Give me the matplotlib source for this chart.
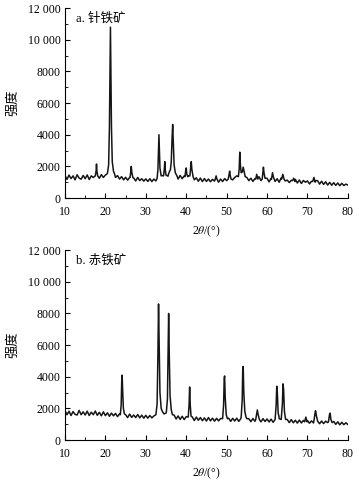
import numpy as np
import matplotlib
matplotlib.use('Agg')
from matplotlib import pyplot as plt
from matplotlib.ticker import MultipleLocator, FuncFormatter

plt.rcParams['font.family'] = ['Liberation Serif', 'Noto Sans CJK SC']
plt.rcParams['mathtext.fontset'] = 'stix'

# sampling grid for the background (every 0.5 degree)
two_theta = np.arange(10, 80.01, 0.5)

# a. goethite background (noisy band)
goethite_base = [
    1420, 1180, 1450, 1230, 1400, 1150, 1470, 1260, 1190, 1430,
    1220, 1460, 1170, 1400, 1300, 1200, 1450, 1250, 1480, 1300,
    1450, 1500, 1500, 1560, 1500, 1300, 1420, 1200, 1350, 1150,
    1310, 1130, 1300, 1120, 1270, 1080, 1300, 1100, 1220, 1070,
    1210, 1050, 1220, 1040, 1200, 1080, 1380, 1500, 1420, 1600,
    1450, 1380, 1500, 1700, 1400, 1470, 1200, 1430, 1220, 1400,
    1350, 1400, 1480, 1350, 1150, 1280, 1060, 1260, 1040, 1230,
    1050, 1200, 1030, 1180, 1070, 1220, 1000, 1200, 1040, 1230,
    1100, 1280, 1300, 1150, 1300, 1400, 1500, 1420, 1600, 1350,
    1300, 1100, 1250, 1050, 1230, 1080, 1350, 1100, 1300, 1120,
    1250, 1020, 1240, 1300, 1050, 1220, 1000, 1270, 1300, 1080,
    1130, 980, 1120, 960, 1180, 950, 1140, 920, 1110, 1000,
    1080, 890, 1060, 900, 1100, 1100, 880, 1060, 860, 1030,
    820, 990, 810, 970, 800, 950, 780, 930, 790, 880,
    820,
]

# goethite peak profiles (2theta, intensity)
goethite_peaks = [
    [(17.5, 1400), (17.7, 1700), (17.8, 2150), (17.9, 1700), (18.1, 1400)],
    [(20.5, 1550), (20.8, 2100), (21.0, 4500), (21.15, 8500), (21.25, 10800),
     (21.35, 8500), (21.5, 4500), (21.7, 2300), (22.0, 1700), (22.3, 1500)],
    [(26.1, 1300), (26.3, 1700), (26.4, 2000), (26.55, 1600), (26.8, 1300)],
    [(32.8, 1250), (33.0, 1800), (33.15, 3200), (33.25, 4000), (33.35, 3200),
     (33.5, 1900), (33.8, 1400)],
    [(34.4, 1400), (34.6, 1900), (34.7, 2300), (34.8, 1800), (35.0, 1450)],
    [(35.6, 1500), (35.9, 1700), (36.1, 1800), (36.3, 2300), (36.5, 3800),
     (36.65, 4650), (36.8, 3600), (37.0, 2100), (37.3, 1600), (37.7, 1400)],
    [(39.7, 1350), (39.9, 1800), (40.0, 1900), (40.15, 1500), (40.4, 1350)],
    [(40.9, 1400), (41.1, 1900), (41.25, 2300), (41.4, 1800), (41.7, 1350)],
    [(47.2, 1200), (47.4, 1400), (47.6, 1200)],
    [(50.4, 1200), (50.6, 1500), (50.75, 1700), (50.9, 1400), (51.1, 1200)],
    [(52.9, 1350), (53.1, 1800), (53.25, 2900), (53.4, 2100), (53.6, 1600),
     (53.9, 1650), (54.1, 1950), (54.3, 1700), (54.6, 1350)],
    [(57.2, 1200), (57.45, 1500), (57.7, 1200)],
    [(58.8, 1200), (59.0, 1700), (59.1, 1950), (59.25, 1600), (59.5, 1250)],
    [(61.1, 1200), (61.35, 1600), (61.6, 1300)],
    [(63.6, 1200), (63.9, 1500), (64.2, 1200)],
    [(66.3, 1100), (66.6, 1250), (66.9, 1050)],
    [(71.3, 1050), (71.6, 1300), (71.9, 1000)],
]

# b. hematite background
hematite_base = [
    1850, 1600, 1820, 1550, 1800, 1620, 1580, 1870, 1600, 1780,
    1580, 1820, 1550, 1760, 1600, 1830, 1560, 1750, 1530, 1780,
    1540, 1720, 1500, 1700, 1530, 1680, 1480, 1650, 1450, 1620,
    1600, 1420, 1640, 1430, 1580, 1420, 1610, 1400, 1570, 1380,
    1560, 1380, 1550, 1400, 1520, 1600, 1700, 1900, 1800, 1650,
    1700, 1650, 1600, 1400, 1580, 1330, 1520, 1300, 1500, 1290,
    1480, 1360, 1450, 1460, 1230, 1450, 1250, 1420, 1220, 1400,
    1200, 1420, 1210, 1380, 1190, 1370, 1210, 1360, 1200, 1450,
    1350, 1380, 1180, 1370, 1200, 1380, 1180, 1350, 1380, 1500,
    1350, 1340, 1160, 1360, 1180, 1400, 1300, 1150, 1350, 1170,
    1330, 1140, 1320, 1120, 1300, 1400, 1350, 1300, 1380, 1250,
    1300, 1100, 1290, 1090, 1250, 1070, 1260, 1080, 1240, 1090,
    1230, 1060, 1210, 1080, 1250, 1130, 1030, 1200, 1040, 1190,
    1100, 1180, 1010, 1170, 990, 1150, 960, 1120, 970, 1090,
    980,
]

hematite_peaks = [
    [(23.7, 1600), (23.9, 2200), (24.05, 3800), (24.15, 4100), (24.25, 3300),
     (24.45, 2000), (24.7, 1650)],
    [(32.5, 1600), (32.8, 2300), (33.0, 5500), (33.15, 8600), (33.3, 6000),
     (33.5, 3000), (33.8, 2000), (34.1, 1800)],
    [(35.1, 1800), (35.35, 2600), (35.5, 5200), (35.65, 8000), (35.8, 5500),
     (36.0, 2800), (36.3, 1900), (36.6, 1600)],
    [(40.5, 1450), (40.7, 2200), (40.85, 3350), (41.0, 2200), (41.2, 1500)],
    [(49.0, 1350), (49.25, 2200), (49.4, 3900), (49.5, 4050), (49.65, 2700),
     (49.9, 1600), (50.2, 1350)],
    [(53.6, 1450), (53.85, 2500), (54.0, 4600), (54.1, 4650), (54.25, 3000),
     (54.5, 1800), (54.8, 1450)],
    [(57.2, 1300), (57.45, 1700), (57.6, 1900), (57.8, 1600), (58.1, 1300)],
    [(62.0, 1300), (62.25, 2200), (62.4, 3400), (62.55, 3000), (62.75, 1700),
     (62.95, 1500)],
    [(63.55, 1450), (63.8, 2300), (63.95, 3550), (64.1, 3200), (64.3, 1800),
     (64.6, 1300)],
    [(69.3, 1150), (69.6, 1450), (69.9, 1150)],
    [(71.6, 1200), (71.85, 1650), (72.0, 1850), (72.2, 1550), (72.5, 1200)],
    [(75.2, 1150), (75.45, 1600), (75.6, 1700), (75.8, 1300), (76.1, 1100)],
]

labels = ['a. 针铁矿', 'b. 赤铁矿']


def build_pattern(base, peaks):
    xs = list(two_theta)
    keep = [True] * len(xs)
    for pk in peaks:
        lo, hi = pk[0][0], pk[-1][0]
        for i, x in enumerate(xs):
            if lo <= x <= hi:
                keep[i] = False
    pts = [(x, y) for x, y, k in zip(xs, base, keep) if k]
    for pk in peaks:
        pts += pk
    pts.sort()
    return [p[0] for p in pts], [p[1] for p in pts]


def fmt(v, pos):
    v = int(round(v))
    if v >= 10000:
        return '%d %03d' % (v // 1000, v % 1000)
    return '%d' % v


fig = plt.figure(figsize=(3.59, 4.83), dpi=100)
ax1 = fig.add_axes([0.181, 0.590, 0.788, 0.393])
ax2 = fig.add_axes([0.181, 0.089, 0.788, 0.393])

for ax, base, peaks, lab in [(ax1, goethite_base, goethite_peaks, labels[0]),
                             (ax2, hematite_base, hematite_peaks, labels[1])]:
    x, y = build_pattern(base, peaks)
    ax.plot(x, y, color='#151515', lw=1.1)
    ax.set_xlim(10, 80)
    ax.set_ylim(0, 12000)
    ax.spines['top'].set_visible(False)
    ax.spines['right'].set_visible(False)
    ax.spines['left'].set_linewidth(0.8)
    ax.spines['bottom'].set_linewidth(0.8)
    ax.xaxis.set_major_locator(MultipleLocator(10))
    ax.xaxis.set_minor_locator(MultipleLocator(5))
    ax.yaxis.set_major_locator(MultipleLocator(2000))
    ax.yaxis.set_minor_locator(MultipleLocator(1000))
    ax.yaxis.set_major_formatter(FuncFormatter(fmt))
    ax.tick_params(which='both', direction='in', labelsize=8.5)
    ax.tick_params(axis='x', pad=6)
    ax.tick_params(axis='y', pad=3)
    ax.tick_params(which='major', length=3.5, width=0.8)
    ax.tick_params(which='minor', length=2, width=0.6)
    ax.set_xlabel(r'2$\mathit{\theta}$/(°)', fontsize=8.5, labelpad=4)
    ax.set_ylabel('强度', fontsize=9.5, labelpad=6)
    ax.text(0.04, 0.98, lab, transform=ax.transAxes, fontsize=9,
            va='top', ha='left')

fig.savefig('out.png', dpi=100)
